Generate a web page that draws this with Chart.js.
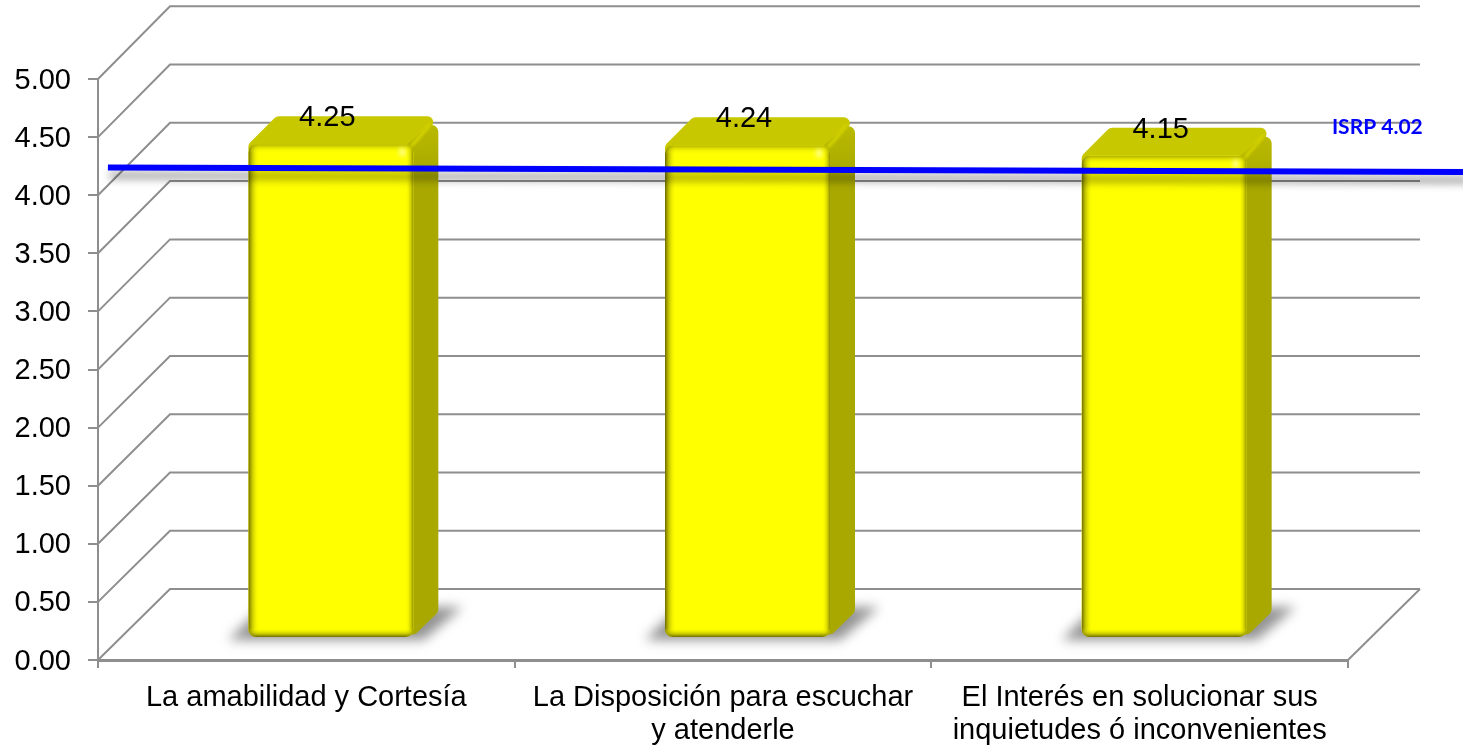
<!DOCTYPE html>
<html lang="es">
<head>
<meta charset="utf-8">
<title>ISRP</title>
<script src="https://cdn.jsdelivr.net/npm/chart.js@4"></script>
<style>
    html, body { margin: 0; padding: 0; background: #fff; }
    canvas { display: block; }
</style>
</head>
<body>
<canvas id="isrpChart" width="1463" height="745"></canvas>
<script>
// Datos del gráfico
const categories = [
    'La amabilidad y Cortesía',
    ['La Disposición para escuchar', 'y atenderle'],
    ['El Interés en solucionar sus', 'inquietudes ó inconvenientes']
];
const scores = [4.25, 4.24, 4.15];
const isrpPositions = [-0.035, 2.5, 3.23];
const isrpValues = [4.05, 4.02, 4.01];
const isrpLabel = 'ISRP 4.02';

const FONT = '"Liberation Sans", Arial, sans-serif';
const GRID = '#8e8e8e';

// Profundidad de la caja 3D y plano donde están las barras
const WALL_DX = 72;
const WALL_DY = -71;
const WALL_STRETCH = 0.34;
const PLANE_DX = 24.5;
const PLANE_DY = -22;
const BAR_DEPTH = 25;

function roundedPoly(ctx, pts, r) {
    ctx.beginPath();
    const n = pts.length;
    ctx.moveTo((pts[0][0] + pts[n - 1][0]) / 2, (pts[0][1] + pts[n - 1][1]) / 2);
    for (let i = 0; i < n; i++) {
        const p = pts[i], q = pts[(i + 1) % n];
        ctx.arcTo(p[0], p[1], q[0], q[1], r);
    }
    ctx.closePath();
}

// Paredes, suelo y líneas de fondo
const wallsPlugin = {
    id: 'walls',
    beforeDatasetsDraw(chart) {
        const { ctx, chartArea, scales } = chart;
        ctx.save();
        ctx.strokeStyle = GRID;
        ctx.lineWidth = 2;
        scales.y.ticks.forEach(t => {
            const y = scales.y.getPixelForValue(t.value);
            const back = y + WALL_DY - t.value * WALL_STRETCH;
            ctx.beginPath();
            ctx.moveTo(chartArea.left, y);
            ctx.lineTo(chartArea.left + WALL_DX, back);
            ctx.lineTo(chartArea.right + WALL_DX, back);
            ctx.stroke();
        });
        ctx.beginPath();
        ctx.moveTo(chartArea.right, chartArea.bottom);
        ctx.lineTo(chartArea.right + WALL_DX, chartArea.bottom + WALL_DY);
        ctx.stroke();
        ctx.restore();
    }
};

function drawBarVolume(ctx, bar) {
    const left = bar.x - bar.width / 2;
    const right = bar.x + bar.width / 2;
    const top = bar.y;
    const base = bar.base;
    const d = BAR_DEPTH;

    // sombra en el suelo
    ctx.save();
    ctx.filter = 'blur(6px)';
    ctx.fillStyle = '#939393';
    ctx.beginPath();
    ctx.moveTo(left - 20, base + 3);
    ctx.lineTo(right + 10, base + 3);
    ctx.lineTo(right + d + 24, base - d - 5);
    ctx.lineTo(left + 14, base - d - 5);
    ctx.closePath();
    ctx.fill();
    ctx.restore();

    // cara superior
    ctx.fillStyle = '#c8c800';
    roundedPoly(ctx, [[left, top + 10], [right, top + 10], [right + d, top - d - 3], [left + d + 3, top - d - 3], [left, top]], 6);
    ctx.fill();

    // cara lateral
    const side = ctx.createLinearGradient(0, top - d, 0, top + 30);
    side.addColorStop(0, '#bcbc00');
    side.addColorStop(1, '#a8a800');
    ctx.fillStyle = side;
    roundedPoly(ctx, [[right - 8, top + 2], [right + d, top - d - 3], [right + d, base - d], [right - 8, base + 7]], 7);
    ctx.fill();

    // arista clara entre la cara superior y la lateral
    ctx.save();
    ctx.filter = 'blur(1.5px)';
    ctx.strokeStyle = '#d8d800';
    ctx.lineWidth = 3;
    ctx.beginPath();
    ctx.moveTo(right - 2, top + 2);
    ctx.lineTo(right + d - 8, top - d + 5);
    ctx.stroke();
    ctx.restore();
}

// Degradado oscuro desde un borde hacia el interior de la cara frontal
function edgeShade(ctx, x0, y0, x1, y1, rect, alpha) {
    const g = ctx.createLinearGradient(x0, y0, x1, y1);
    g.addColorStop(0, 'rgba(105, 105, 0, ' + alpha + ')');
    g.addColorStop(0.35, 'rgba(150, 150, 0, ' + alpha * 0.55 + ')');
    g.addColorStop(1, 'rgba(255, 255, 0, 0)');
    ctx.fillStyle = g;
    ctx.fillRect(rect[0], rect[1], rect[2], rect[3]);
}

function drawBarBevel(ctx, bar) {
    const left = bar.x - bar.width / 2;
    const right = left + bar.width;
    const top = bar.y;
    const base = bar.base;
    const h = base - top;
    ctx.save();
    ctx.beginPath();
    ctx.roundRect(left, top, bar.width, h, 8);
    ctx.clip();
    edgeShade(ctx, left, 0, left + 11, 0, [left, top, 11, h], 1);
    edgeShade(ctx, right, 0, right - 8, 0, [right - 8, top, 8, h], 0.75);
    edgeShade(ctx, 0, base, 0, base - 9, [left, base - 9, bar.width, 9], 1);
    edgeShade(ctx, 0, top, 0, top + 9, [left, top, bar.width, 9], 0.55);
    ctx.restore();

    // brillo en la esquina superior derecha
    ctx.save();
    ctx.filter = 'blur(2px)';
    ctx.fillStyle = 'rgba(255, 255, 190, 0.7)';
    ctx.fillRect(right - 14, top + 4, 6, 8);
    ctx.restore();
}

// Las barras y la línea ISRP van en el plano medio de la caja
const depthPlugin = {
    id: 'depth',
    beforeDatasetDraw(chart, args) {
        const { ctx } = chart;
        ctx.save();
        ctx.translate(PLANE_DX, PLANE_DY);
        if (args.meta.type === 'bar') {
            args.meta.data.forEach(bar => drawBarVolume(ctx, bar));
        } else {
            ctx.shadowColor = 'rgba(0, 0, 0, 0.42)';
            ctx.shadowBlur = 9;
            ctx.shadowOffsetX = 2;
            ctx.shadowOffsetY = 8;
        }
    },
    afterDatasetDraw(chart, args) {
        const { ctx } = chart;
        if (args.meta.type === 'bar') {
            args.meta.data.forEach(bar => drawBarBevel(ctx, bar));
        }
        ctx.restore();
    },
    afterDatasetsDraw(chart) {
        const { ctx } = chart;
        const meta = chart.getDatasetMeta(0);
        ctx.save();
        ctx.translate(PLANE_DX, PLANE_DY);
        ctx.fillStyle = '#000';
        ctx.font = '29px ' + FONT;
        ctx.textAlign = 'center';
        ctx.textBaseline = 'middle';
        meta.data.forEach((bar, i) => {
            ctx.fillText(scores[i].toFixed(2), bar.x - 3.5, bar.y - 26);
        });
        ctx.fillStyle = '#0000ff';
        ctx.font = 'bold 21px Lato, sans-serif';
        const lineMeta = chart.getDatasetMeta(1);
        ctx.fillText(isrpLabel, lineMeta.data[2].x - 91, lineMeta.data[2].y - 45);
        ctx.restore();
    }
};

const chart = new Chart(document.getElementById('isrpChart').getContext('2d'), {
    type: 'bar',
    data: {
        labels: categories,
        datasets: [
            {
                type: 'bar',
                data: scores,
                order: 2,
                grouped: false,
                backgroundColor: '#ffff00',
                borderWidth: 0,
                borderRadius: 8,
                borderSkipped: false,
                categoryPercentage: 1,
                barPercentage: 0.396,
                clip: false
            },
            {
                type: 'line',
                xAxisID: 'xIsrp',
                data: isrpPositions.map((x, i) => ({ x: x, y: isrpValues[i] })),
                order: 1,
                borderColor: '#0000ff',
                borderWidth: 6,
                pointRadius: 0,
                tension: 0,
                clip: false
            }
        ]
    },
    options: {
        responsive: false,
        animation: false,
        layout: { padding: { top: 79, right: 115 } },
        plugins: { legend: { display: false }, tooltip: { enabled: false } },
        scales: {
            x: {
                grid: { drawOnChartArea: false, color: GRID, lineWidth: 2, tickLength: 8 },
                border: { color: GRID, width: 3 },
                afterFit: s => { s.height = 85; },
                ticks: {
                    color: '#000',
                    autoSkip: false,
                    maxRotation: 0,
                    padding: 14,
                    font: { family: FONT, size: 29, lineHeight: 1.12 }
                }
            },
            xIsrp: { type: 'linear', display: false, min: 0, max: 3, offset: false },
            y: {
                min: 0,
                max: 5,
                afterFit: s => { s.width = 98; },
                grid: { drawOnChartArea: false, color: GRID, lineWidth: 2, tickLength: 10 },
                border: { color: GRID, width: 2 },
                ticks: {
                    stepSize: 0.5,
                    color: '#000',
                    padding: 17,
                    labelOffset: 1.5,
                    font: { family: FONT, size: 29 },
                    callback: v => Number(v).toFixed(2)
                }
            }
        }
    },
    plugins: [wallsPlugin, depthPlugin]
});
</script>
</body>
</html>
